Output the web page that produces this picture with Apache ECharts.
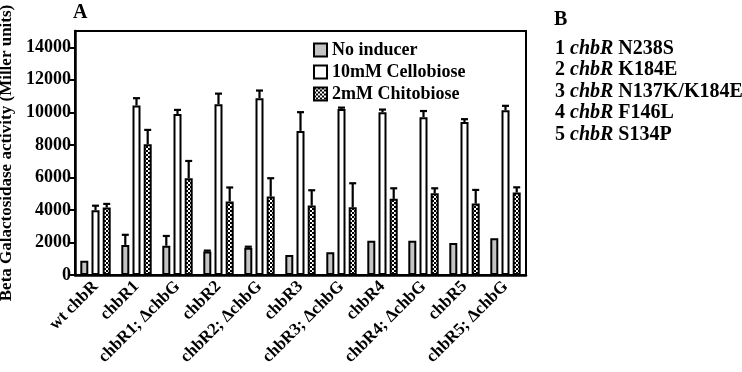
<!DOCTYPE html>
<html><head><meta charset="utf-8">
<script src="https://cdn.jsdelivr.net/npm/echarts@6/dist/echarts.min.js"></script>
<style>html,body{margin:0;padding:0;background:#fff}#c{width:742px;height:372px}</style>
</head><body><div id="c"></div>
<script>
var categories = ['wt chbR','chbR1','chbR1; ΔchbG','chbR2','chbR2; ΔchbG','chbR3','chbR3; ΔchbG','chbR4','chbR4; ΔchbG','chbR5','chbR5; ΔchbG'];
var noInducer =     [880, 1850, 1800, 1440, 1680, 1230, 1400, 2100, 2100, 1970, 2260];
var noInducerErr =  [0, 620, 600, 60, 60, 0, 0, 0, 0, 0, 0];
var cellobiose =    [3980, 10420, 9900, 10500, 10870, 8860, 10210, 10010, 9700, 9400, 10130];
var cellobioseErr = [280, 450, 250, 650, 470, 1150, 80, 160, 380, 180, 270];
var chitobiose =    [4150, 8040, 5950, 4520, 4820, 4270, 4160, 4680, 5030, 4390, 5070];
var chitobioseErr = [220, 880, 1060, 860, 1130, 940, 1480, 650, 300, 840, 320];
var seriesNames = ['No inducer','10mM Cellobiose','2mM Chitobiose'];
var yTicks = [0,2000,4000,6000,8000,10000,12000,14000];

var FONT = '"Liberation Serif","Times New Roman",serif';
var pc = document.createElement('canvas'); pc.width = 4; pc.height = 4;
var px = pc.getContext('2d'); px.fillStyle = '#fff'; px.fillRect(0,0,4,4);
px.fillStyle = '#000'; px.fillRect(0,0,2,2); px.fillRect(2,2,2,2);

var BW = 8, GAP = 0.4;
var allVals = [noInducer, cellobiose, chitobiose];
var allErr = [noInducerErr, cellobioseErr, chitobioseErr];
function errSeries(k){
  var data = categories.map(function(c,i){ return [i, allVals[k][i], allVals[k][i] + allErr[k][i]]; });
  return {
    type:'custom', silent:true, z:5, data:data,
    renderItem:function(params, api){
      var i = api.value(0);
      var step = BW*(1+GAP);
      var off = (k-1)*step;
      var p0 = api.coord([i, api.value(1)]);
      var p1 = api.coord([i, api.value(2)]);
      if (api.value(2) - api.value(1) <= 0) return null;
      var x = p0[0] + off;
      return {type:'group', children:[
        {type:'line', shape:{x1:x,y1:p0[1],x2:x,y2:p1[1]}, style:{stroke:'#000',lineWidth:2.2}},
        {type:'line', shape:{x1:x-3.5,y1:p1[1],x2:x+3.5,y2:p1[1]}, style:{stroke:'#000',lineWidth:2.2}}
      ]};
    }
  };
}
var chart = echarts.init(document.getElementById('c'));
chart.setOption({
  animation:false,
  textStyle:{fontFamily:FONT},
  grid:{left:75, right:216, top:31, bottom:97, containLabel:false, outerBoundsMode:'none',
        show:true, borderColor:'#000', borderWidth:2, backgroundColor:'transparent'},
  legend:{
    data:seriesNames, orient:'vertical', left:308, top:36, itemGap:4,
    itemWidth:13, itemHeight:13, icon:'rect',
    textStyle:{fontFamily:FONT, fontWeight:'bold', fontSize:18, color:'#000'}
  },
  xAxis:{
    type:'category', data:categories,
    axisLine:{lineStyle:{color:'#000', width:2.5}},
    axisTick:{alignWithLabel:true, length:5, lineStyle:{color:'#000', width:2}},
    axisLabel:{rotate:45, margin:9, fontFamily:FONT, fontWeight:'bold', fontSize:17, color:'#000', interval:0}
  },
  yAxis:{
    type:'value', min:0, max:15000, interval:2000,
    name:'Beta Galactosidase activity (Miller units)', nameLocation:'middle', nameGap:55,
    nameTextStyle:{fontFamily:FONT, fontWeight:'bold', fontSize:17, color:'#000'},
    axisLine:{show:true, lineStyle:{color:'#000', width:2.5}},
    axisTick:{show:true, length:5, lineStyle:{color:'#000', width:2}},
    axisLabel:{showMaxLabel:false, fontFamily:FONT, fontWeight:'bold', fontSize:18, color:'#000', margin:4,
      formatter:function(v){ return yTicks.indexOf(v) >= 0 ? String(v) : ''; }},
    splitLine:{show:false}
  },
  series:[
    {name:seriesNames[0], type:'bar', data:noInducer, barWidth:BW, barGap:'40%',
     itemStyle:{color:'#c4c4c4', borderColor:'#000', borderWidth:2}},
    {name:seriesNames[1], type:'bar', data:cellobiose, barWidth:BW, barGap:'40%',
     itemStyle:{color:'#fff', borderColor:'#000', borderWidth:2}},
    {name:seriesNames[2], type:'bar', data:chitobiose, barWidth:BW, barGap:'40%',
     itemStyle:{color:{image:pc, repeat:'repeat'}, borderColor:'#000', borderWidth:2}},
    errSeries(0), errSeries(1), errSeries(2)
  ],
  graphic:[
    {type:'text', left:73, top:3, style:{text:'A', font:'bold 20px '+FONT, fill:'#000'}},
    {type:'text', left:554, top:10, style:{text:'B', font:'bold 20px '+FONT, fill:'#000'}},
    {type:'text', left:555, top:38, style:{
      text:'1 {i|chbR} N238S\n2 {i|chbR} K184E\n3 {i|chbR} N137K/K184E\n4 {i|chbR} F146L\n5 {i|chbR} S134P',
      font:'bold 20px '+FONT, fill:'#000', lineHeight:21.5,
      rich:{i:{fontStyle:'italic', fontWeight:'bold', fontSize:20, fontFamily:FONT, lineHeight:21.5}}
    }}
  ]
});
</script></body></html>
